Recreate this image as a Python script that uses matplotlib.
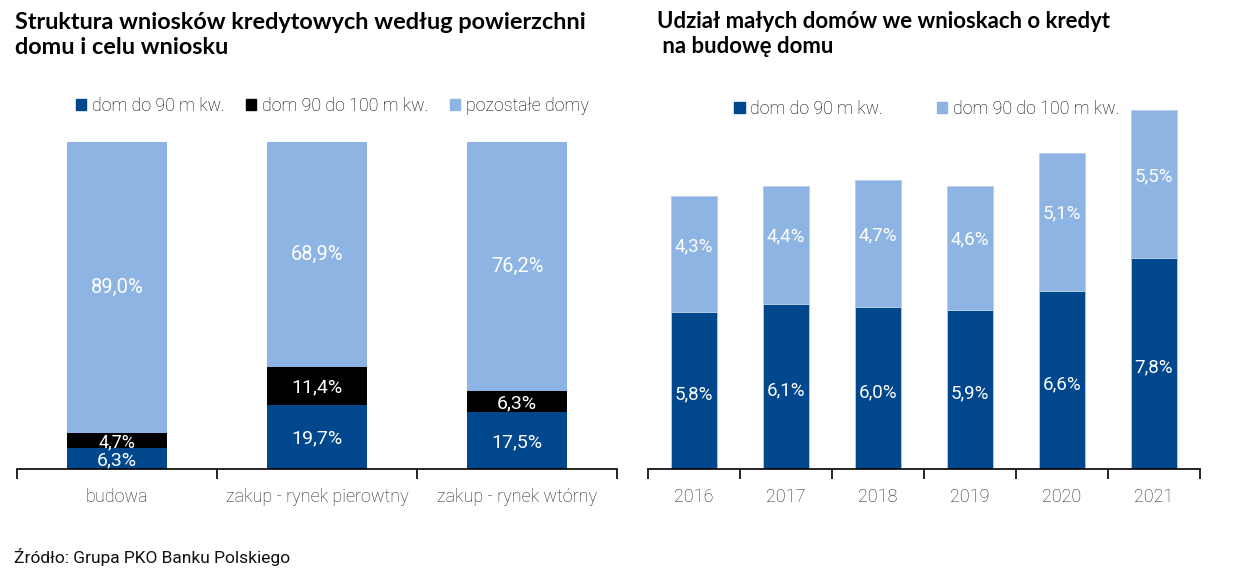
import matplotlib.pyplot as plt
from matplotlib.patches import Patch

# Dane - wykres lewy
cele = ['budowa', 'zakup - rynek pierowtny', 'zakup - rynek wtórny']
do_90 = [6.3, 19.7, 17.5]
od_90_do_100 = [4.7, 11.4, 6.3]
pozostale = [89.0, 68.9, 76.2]

# Dane - wykres prawy
lata = ['2016', '2017', '2018', '2019', '2020', '2021']
male_do_90 = [5.8, 6.1, 6.0, 5.9, 6.6, 7.8]
male_90_100 = [4.3, 4.4, 4.7, 4.6, 5.1, 5.5]

DARK = '#00478d'
LIGHT = '#8eb4e3'
BLACK = '#000000'

plt.rcParams['font.family'] = ['Roboto', 'DejaVu Sans']
plt.rcParams['font.weight'] = 'light'


def fmt(v):
    return f'{v:.1f}%'.replace('.', ',')


def style_axis(ax, n):
    for s in ['top', 'right', 'left']:
        ax.spines[s].set_visible(False)
    ax.spines['bottom'].set_color('black')
    ax.spines['bottom'].set_linewidth(1.2)
    ax.set_yticks([])
    ax.set_xlim(-0.5, n - 0.5)
    ax.set_xticks(range(n))
    ax.tick_params(axis='x', which='major', length=0, pad=14, labelsize=13, colors='#222222')
    ax.set_xticks([i - 0.5 for i in range(n + 1)], minor=True)
    ax.tick_params(axis='x', which='minor', length=7, width=1.2, color='black')


fig = plt.figure(figsize=(12.45, 5.8), dpi=100)

# --- Lewy wykres ---
ax1 = fig.add_axes([17 / 1245, 111 / 580, 600 / 1245, 327 / 580])
x = range(len(cele))
w = 0.5
ax1.bar(x, do_90, w, color=DARK)
ax1.bar(x, od_90_do_100, w, bottom=do_90, color=BLACK)
bottom2 = [a + b for a, b in zip(do_90, od_90_do_100)]
ax1.bar(x, pozostale, w, bottom=bottom2, color=LIGHT)
ax1.set_ylim(0, 100)
style_axis(ax1, len(cele))
ax1.set_xticklabels(cele)

for i in x:
    ax1.text(i, do_90[i] / 2 - 0.6, fmt(do_90[i]), ha='center', va='center', color='white',
             fontsize=14, fontweight='normal')
    ax1.text(i, do_90[i] + od_90_do_100[i] / 2 - 0.5, fmt(od_90_do_100[i]), ha='center', va='center',
             color='white', fontsize=13 if od_90_do_100[i] < 6 else 14, fontweight='normal')
    ax1.text(i, bottom2[i] + pozostale[i] / 2, fmt(pozostale[i]), ha='center', va='center', color='white',
             fontsize=14.5, fontweight='normal')

h1 = [Patch(color=DARK), Patch(color=BLACK), Patch(color=LIGHT)]
ax1.legend(h1, ['dom do 90 m kw.', 'dom 90 do 100 m kw.', 'pozostałe domy'], loc='lower center',
           bbox_to_anchor=(0.525, 1.035), ncol=3, frameon=False, handlelength=0.6, handleheight=0.6,
           handletextpad=0.3, columnspacing=1.2, fontsize=12.8)

fig.text(15 / 1245, 1 - 35 / 580, 'Struktura wniosków kredytowych według powierzchni\ndomu i celu wniosku',
         ha='left', va='center', fontsize=16.9, fontweight='bold', family=['Lato', 'DejaVu Sans'],
         linespacing=1.2)

# --- Prawy wykres ---
ax2 = fig.add_axes([648 / 1245, 111 / 580, 552 / 1245, 364.5 / 580])
x2 = range(len(lata))
ax2.bar(x2, male_do_90, w, color=DARK, edgecolor='#b8cde6', linewidth=0.6)
ax2.bar(x2, male_90_100, w, bottom=male_do_90, color=LIGHT, edgecolor='#b8cde6', linewidth=0.6)
ax2.set_ylim(0, 13.5)
style_axis(ax2, len(lata))
ax2.set_xticklabels(lata)

for i in x2:
    ax2.text(i, male_do_90[i] / 2 - 0.15, fmt(male_do_90[i]), ha='center', va='center', color='white',
             fontsize=13.5, fontweight='normal')
    ax2.text(i, male_do_90[i] + male_90_100[i] / 2 + 0.3, fmt(male_90_100[i]), ha='center', va='center',
             color='white', fontsize=13.5, fontweight='normal')

h2 = [Patch(color=DARK), Patch(color=LIGHT)]
ax2.legend(h2, ['dom do 90 m kw.', 'dom 90 do 100 m kw.'], loc='lower center',
           bbox_to_anchor=(0.505, 0.92), ncol=2, frameon=False, handlelength=0.6, handleheight=0.6,
           handletextpad=0.3, columnspacing=3.0, fontsize=12.8)

fig.text(657 / 1245, 1 - 34 / 580, 'Udział małych domów we wnioskach o kredyt\n na budowę domu',
         ha='left', va='center', fontsize=15.9, fontweight='bold', family=['Lato', 'DejaVu Sans'],
         linespacing=1.2)

fig.text(14 / 1245, 1 - 557 / 580, 'Źródło: Grupa PKO Banku Polskiego', ha='left', va='center',
         fontsize=12.5, color='#111111', fontweight='normal')

fig.savefig('out.png', dpi=100)
